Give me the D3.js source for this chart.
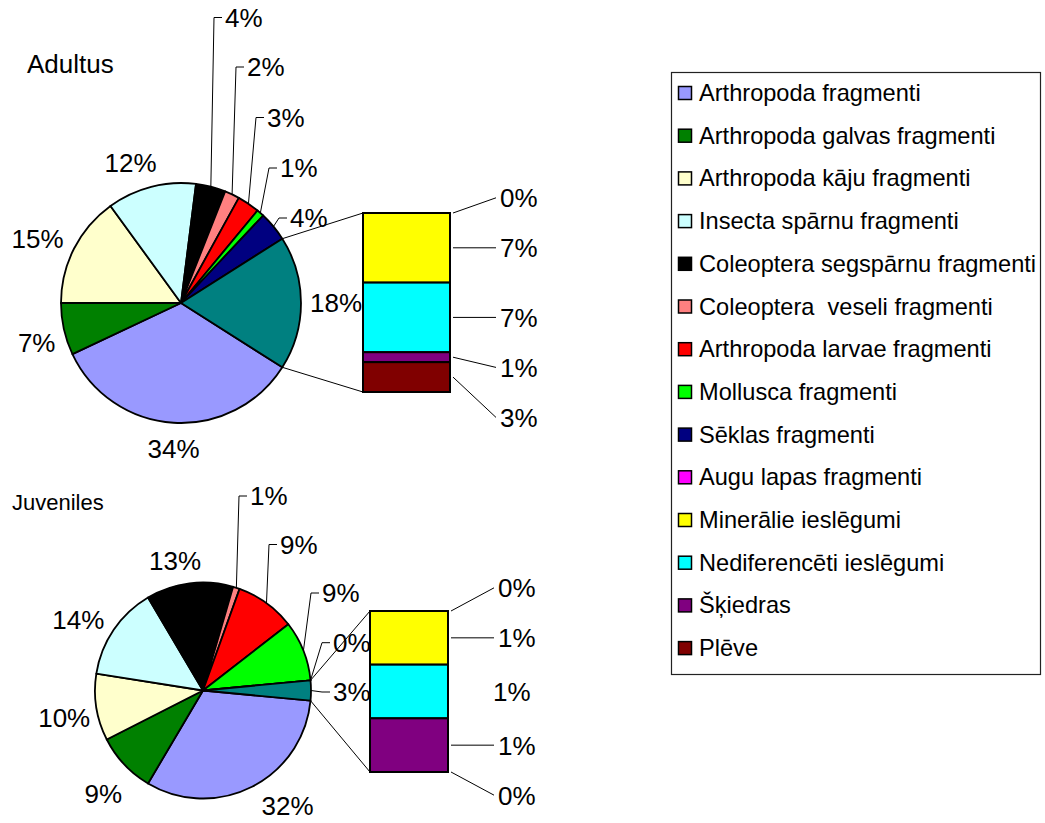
<!DOCTYPE html>
<html>
<head>
<meta charset="utf-8">
<script src="https://cdn.jsdelivr.net/npm/d3@7"></script>
<style>
  body { margin: 0; background: #fff; }
  svg { display: block; }
  text { font-family: "Liberation Sans", Arial, sans-serif; fill: #000; }
</style>
</head>
<body>
<svg id="chart" width="1045" height="823"></svg>
<script>
// Diet composition categories (pie + bar-of-pie)
const categories = [
  "Arthropoda fragmenti",
  "Arthropoda galvas fragmenti",
  "Arthropoda kāju fragmenti",
  "Insecta spārnu fragmenti",
  "Coleoptera segspārnu fragmenti",
  "Coleoptera  veseli fragmenti",
  "Arthropoda larvae fragmenti",
  "Mollusca fragmenti",
  "Sēklas fragmenti",
  "Augu lapas fragmenti",
  "Minerālie ieslēgumi",
  "Nediferencēti ieslēgumi",
  "Šķiedras",
  "Plēve"
];
const colors = [
  "#9999FF", "#008000", "#FFFFCC", "#CCFFFF", "#000000", "#FF8080", "#FF0000",
  "#00FF00", "#000080", "#FF00FF", "#FFFF00", "#00FFFF", "#800080", "#800000"
];
// Percent shares per category
const adultusValues   = [34, 7, 15, 12, 4, 2, 3, 1, 4, 0, 7, 7, 1, 3];
const juvenilesValues = [32, 9, 10, 14, 13, 1, 9, 9, 0, 0, 1, 1, 1, 0];
const titles = ["Adultus", "Juveniles"];

const pieCount = 9;          // first nine categories stay in the pie, the rest form the bar
const otherColor = "#008080";

// Layout of the two panels
const panels = [
  {
    title: titles[0], titleSize: 26, titleX: 27, titleY: 73,
    values: adultusValues, cx: 181, cy: 303, r: 120,
    bar: { x: 363, y: 213, w: 87, h: 179 },
    // slice index -> [text centre x, text middle y] for labels sitting by their slice
    labelAt: { 0: [173.5, 449], 1: [36.7, 343], 2: [37.5, 239], 3: [130.5, 162.7], 9: [336, 303] },
    // slice index -> [text left, text middle] for labels with leader lines
    leaderLabels: { 4: [225, 17.5], 5: [247, 67], 6: [267, 117.5], 7: [280, 168], 8: [290, 218] },
    barNoLeader: []
  },
  {
    title: titles[1], titleSize: 22, titleX: 12, titleY: 510,
    values: juvenilesValues, cx: 203, cy: 690.5, r: 108,
    bar: { x: 370, y: 611, w: 78, h: 161 },
    labelAt: { 0: [287.5, 806], 1: [103.3, 794], 2: [64.2, 717.5], 3: [78.3, 620], 4: [175, 561] },
    leaderLabels: { 5: [250, 496], 6: [280, 544.5], 7: [322, 593], 8: [333, 642.7], 9: [333, 692] },
    barNoLeader: [2]
  }
];

const labelSize = 26;
const fmt = v => Math.round(v) + "%";
const svg = d3.select("#chart");

panels.forEach(p => {
  const g = svg.append("g");

  g.append("text")
    .attr("x", p.titleX).attr("y", p.titleY)
    .style("font-size", p.titleSize + "px")
    .text(p.title);

  const pieItems = p.values.slice(0, pieCount).map((v, i) => ({ name: categories[i], color: colors[i], value: v }));
  const barItems = p.values.slice(pieCount).map((v, i) => ({ name: categories[pieCount + i], color: colors[pieCount + i], value: v }));
  const otherTotal = d3.sum(barItems, d => d.value);
  const total = d3.sum(p.values);
  const otherFrac = otherTotal / total;
  pieItems.push({ name: "other", color: otherColor, value: otherTotal });

  // "other" slice is centred on 3 o'clock; slices run clockwise from its lower edge
  const a0 = Math.PI / 2 + Math.PI * otherFrac;
  const pie = d3.pie().sort(null).value(d => d.value).startAngle(a0).endAngle(a0 + 2 * Math.PI);
  const arcs = pie(pieItems);
  const arc = d3.arc().innerRadius(0).outerRadius(p.r);
  const pt = (a, rad) => [p.cx + rad * Math.sin(a), p.cy - rad * Math.cos(a)];

  // connector lines from the "other" slice to the bar
  const upper = pt(Math.PI / 2 - Math.PI * otherFrac, p.r);
  const lower = pt(Math.PI / 2 + Math.PI * otherFrac, p.r);
  g.append("line").attr("x1", upper[0]).attr("y1", upper[1]).attr("x2", p.bar.x).attr("y2", p.bar.y)
    .attr("stroke", "#000").attr("stroke-width", 1);
  g.append("line").attr("x1", lower[0]).attr("y1", lower[1]).attr("x2", p.bar.x).attr("y2", p.bar.y + p.bar.h)
    .attr("stroke", "#000").attr("stroke-width", 1);

  // pie slices
  const pg = g.append("g").attr("transform", `translate(${p.cx},${p.cy})`);
  pg.selectAll("path").data(arcs).join("path")
    .attr("d", arc)
    .attr("fill", d => d.data.color)
    .attr("stroke", "#000")
    .attr("stroke-width", 1.8)
    .attr("stroke-linejoin", "round");

  // pie labels
  arcs.forEach((d, i) => {
    const mid = (d.startAngle + d.endAngle) / 2;
    const lab = p.leaderLabels[i];
    if (lab) {
      const tip = pt(mid, p.r);
      g.append("path")
        .attr("d", `M${lab[0] - 3},${lab[1]}H${lab[0] - 11}L${tip[0]},${tip[1]}`)
        .attr("fill", "none").attr("stroke", "#000").attr("stroke-width", 1);
      g.append("text")
        .attr("x", lab[0]).attr("y", lab[1]).attr("dy", "0.36em")
        .style("font-size", labelSize + "px")
        .text(fmt(d.data.value));
    } else {
      const t = g.append("text")
        .attr("text-anchor", "middle").attr("dy", "0.36em")
        .style("font-size", labelSize + "px")
        .text(fmt(d.data.value));
      const at = p.labelAt[i];
      if (at) {
        t.attr("x", at[0]).attr("y", at[1]);
      } else {
        const w = t.node().getComputedTextLength();
        const ux = Math.sin(mid), uy = -Math.cos(mid);
        const dist = p.r + 10 + Math.abs(ux) * w / 2 + Math.abs(uy) * 12;
        t.attr("x", p.cx + ux * dist).attr("y", p.cy + uy * dist);
      }
    }
  });

  // stacked bar of the split-off categories
  const y = d3.scaleLinear().domain([0, otherTotal]).range([p.bar.y, p.bar.y + p.bar.h]);
  let cum = 0;
  const segs = barItems.map(d => { const s = { ...d, y0: cum, y1: cum + d.value }; cum += d.value; return s; });
  g.selectAll("rect.seg").data(segs).join("rect")
    .attr("class", "seg")
    .attr("x", p.bar.x).attr("width", p.bar.w)
    .attr("y", d => y(d.y0)).attr("height", d => y(d.y1) - y(d.y0))
    .attr("fill", d => d.color)
    .attr("stroke", "#000").attr("stroke-width", 2);

  // bar labels: segments tall enough keep their place, others are pushed apart
  const gap = 50;
  const natural = segs.map(d => y((d.y0 + d.y1) / 2));
  const fixed = segs.map(d => y(d.y1) - y(d.y0) >= gap);
  const pos = natural.slice();
  const firstFixed = Math.max(0, fixed.indexOf(true));
  for (let i = firstFixed + 1; i < pos.length; i++) {
    if (!fixed[i]) pos[i] = Math.max(pos[i], pos[i - 1] + gap);
  }
  for (let i = firstFixed - 1; i >= 0; i--) {
    if (!fixed[i]) pos[i] = Math.min(pos[i], pos[i + 1] - gap);
  }
  const barRight = p.bar.x + p.bar.w;
  segs.forEach((d, i) => {
    const plain = p.barNoLeader.includes(i);
    const left = barRight + (plain ? 45 : 50);
    if (!plain) {
      g.append("line")
        .attr("x1", barRight + 3).attr("y1", natural[i])
        .attr("x2", left - 4).attr("y2", pos[i])
        .attr("stroke", "#000").attr("stroke-width", 1);
    }
    g.append("text")
      .attr("x", left).attr("y", pos[i]).attr("dy", "0.36em")
      .style("font-size", labelSize + "px")
      .text(fmt(d.value));
  });
});

// legend
const legend = { x: 671, y: 72, w: 369, h: 602, row0: 93, step: 42.7 };
const lg = svg.append("g");
lg.append("rect")
  .attr("x", legend.x + 0.5).attr("y", legend.y + 0.5)
  .attr("width", legend.w).attr("height", legend.h)
  .attr("fill", "#fff").attr("stroke", "#222").attr("stroke-width", 1.2);
const items = lg.selectAll("g.item").data(categories).join("g")
  .attr("class", "item")
  .attr("transform", (d, i) => `translate(0,${legend.row0 + i * legend.step})`);
items.append("rect")
  .attr("x", 678.5).attr("y", -6.5).attr("width", 13).attr("height", 13)
  .attr("fill", (d, i) => colors[i])
  .attr("stroke", "#000").attr("stroke-width", 1.5);
items.append("text")
  .attr("x", 699).attr("y", 8)
  .style("font-size", "23.6px")
  .style("white-space", "pre")
  .text(d => d);
</script>
</body>
</html>
